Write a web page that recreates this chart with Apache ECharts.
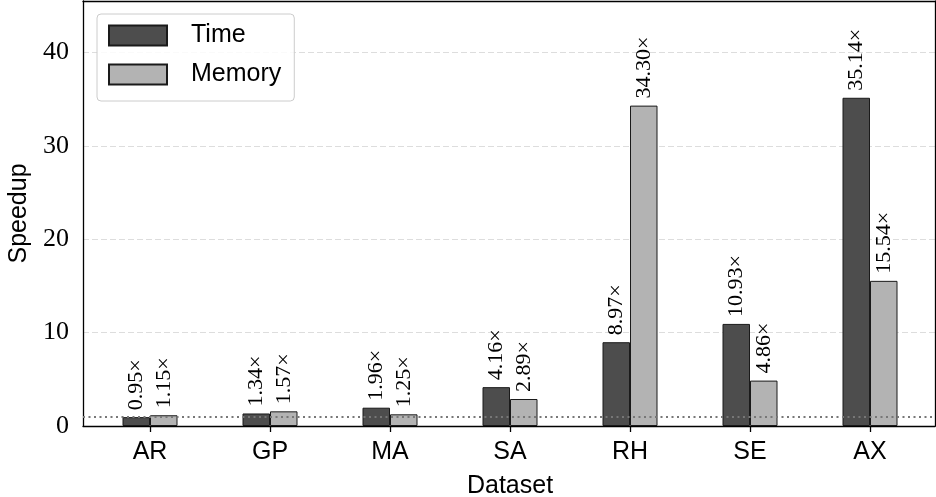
<!DOCTYPE html>
<html>
<head>
<meta charset="utf-8">
<script src="https://cdn.jsdelivr.net/npm/echarts@6/dist/echarts.min.js"></script>
<style>html,body{margin:0;padding:0;background:#fff}#c{width:936px;height:497px}</style>
</head>
<body>
<div id="c"></div>
<script>
const categories = ['AR', 'GP', 'MA', 'SA', 'RH', 'SE', 'AX'];
const timeSpeedup = [0.95, 1.34, 1.96, 4.16, 8.97, 10.93, 35.14];
const memorySpeedup = [1.15, 1.57, 1.25, 2.89, 34.30, 4.86, 15.54];
const yTicks = [0, 10, 20, 30, 40];
const baseline = 1;

const SANS = 'Liberation Sans';
const SERIF = 'Liberation Serif';
const YMAX = 45.5;
const frameLine = {show: true, onZero: false, lineStyle: {color: '#000', width: 1.3}};

const chart = echarts.init(document.getElementById('c'));
const barLabel = {
  show: true,
  position: 'top',
  rotate: 90,
  align: 'left',
  verticalAlign: 'middle',
  distance: 7,
  fontFamily: SERIF,
  fontSize: 22,
  color: '#000',
  formatter: p => p.value.toFixed(2) + '\u00d7'
};
chart.setOption({
  animation: false,
  backgroundColor: '#fff',
  grid: [
    {left: 83, right: 1, top: 1, bottom: 71, outerBoundsMode: 'none', containLabel: false},
    {left: 90, right: 6, top: 1, bottom: 71, outerBoundsMode: 'none', containLabel: false}
  ],
  legend: {
    orient: 'vertical',
    left: 97, top: 14,
    padding: [9, 13, 14, 11],
    itemGap: 14,
    itemWidth: 58, itemHeight: 20,
    icon: 'rect',
    backgroundColor: 'rgba(255,255,255,0.85)',
    borderColor: '#cccccc', borderWidth: 1, borderRadius: 4,
    textStyle: {fontFamily: SANS, fontSize: 25, color: '#000', lineHeight: 25, padding: [0, 0, 0, 19]},
    data: ['Time', 'Memory']
  },
  xAxis: [
    {gridIndex: 0, type: 'value', min: 0, max: 1, position: 'bottom',
      axisLine: frameLine, axisTick: {show: false}, axisLabel: {show: false}, splitLine: {show: false}},
    {gridIndex: 0, type: 'value', min: 0, max: 1, position: 'top',
      axisLine: frameLine, axisTick: {show: false}, axisLabel: {show: false}, splitLine: {show: false}},
    {
      gridIndex: 1, type: 'category', data: categories,
      axisLine: {show: false},
      axisTick: {show: true, alignWithLabel: true, length: 6, lineStyle: {color: '#000', width: 1.3}},
      axisLabel: {fontFamily: SANS, fontSize: 25, color: '#000', margin: 14},
      name: 'Dataset', nameLocation: 'middle', nameGap: 48,
      nameTextStyle: {fontFamily: SANS, fontSize: 25, color: '#000'}
    }
  ],
  yAxis: [
    {
      gridIndex: 0, type: 'value', min: 0, max: YMAX, interval: 10, position: 'left',
      axisLine: frameLine, axisTick: {show: false},
      axisLabel: {fontFamily: SERIF, fontSize: 26, color: '#000', margin: 14,
        formatter: v => yTicks.includes(v) ? String(v) : ''},
      splitLine: {show: true, lineStyle: {color: '#dddddd', type: [6, 3], width: 1}},
      name: 'Speedup', nameLocation: 'middle', nameGap: 50,
      nameTextStyle: {fontFamily: SANS, fontSize: 25, color: '#000'}
    },
    {gridIndex: 0, type: 'value', min: 0, max: YMAX, position: 'right',
      axisLine: frameLine, axisTick: {show: false}, axisLabel: {show: false}, splitLine: {show: false}},
    {gridIndex: 1, type: 'value', min: 0, max: YMAX, show: false}
  ],
  series: [
    {
      name: 'Time', type: 'bar', xAxisIndex: 2, yAxisIndex: 2,
      data: timeSpeedup, barWidth: 27.5, barGap: '0%',
      itemStyle: {color: '#4d4d4d', borderColor: '#1a1a1a', borderWidth: 1},
      label: barLabel, z: 3
    },
    {
      name: 'Memory', type: 'bar', xAxisIndex: 2, yAxisIndex: 2,
      data: memorySpeedup, barWidth: 27.5, barGap: '0%',
      itemStyle: {color: '#b3b3b3', borderColor: '#1a1a1a', borderWidth: 1},
      label: barLabel, z: 3
    },
    {
      type: 'line', xAxisIndex: 0, yAxisIndex: 0, data: [], z: 5,
      markLine: {
        silent: true, symbol: 'none', animation: false,
        label: {show: false},
        lineStyle: {color: '#777777', type: [2, 3.5], width: 2},
        data: [{yAxis: baseline}]
      }
    }
  ]
});
</script>
</body>
</html>
